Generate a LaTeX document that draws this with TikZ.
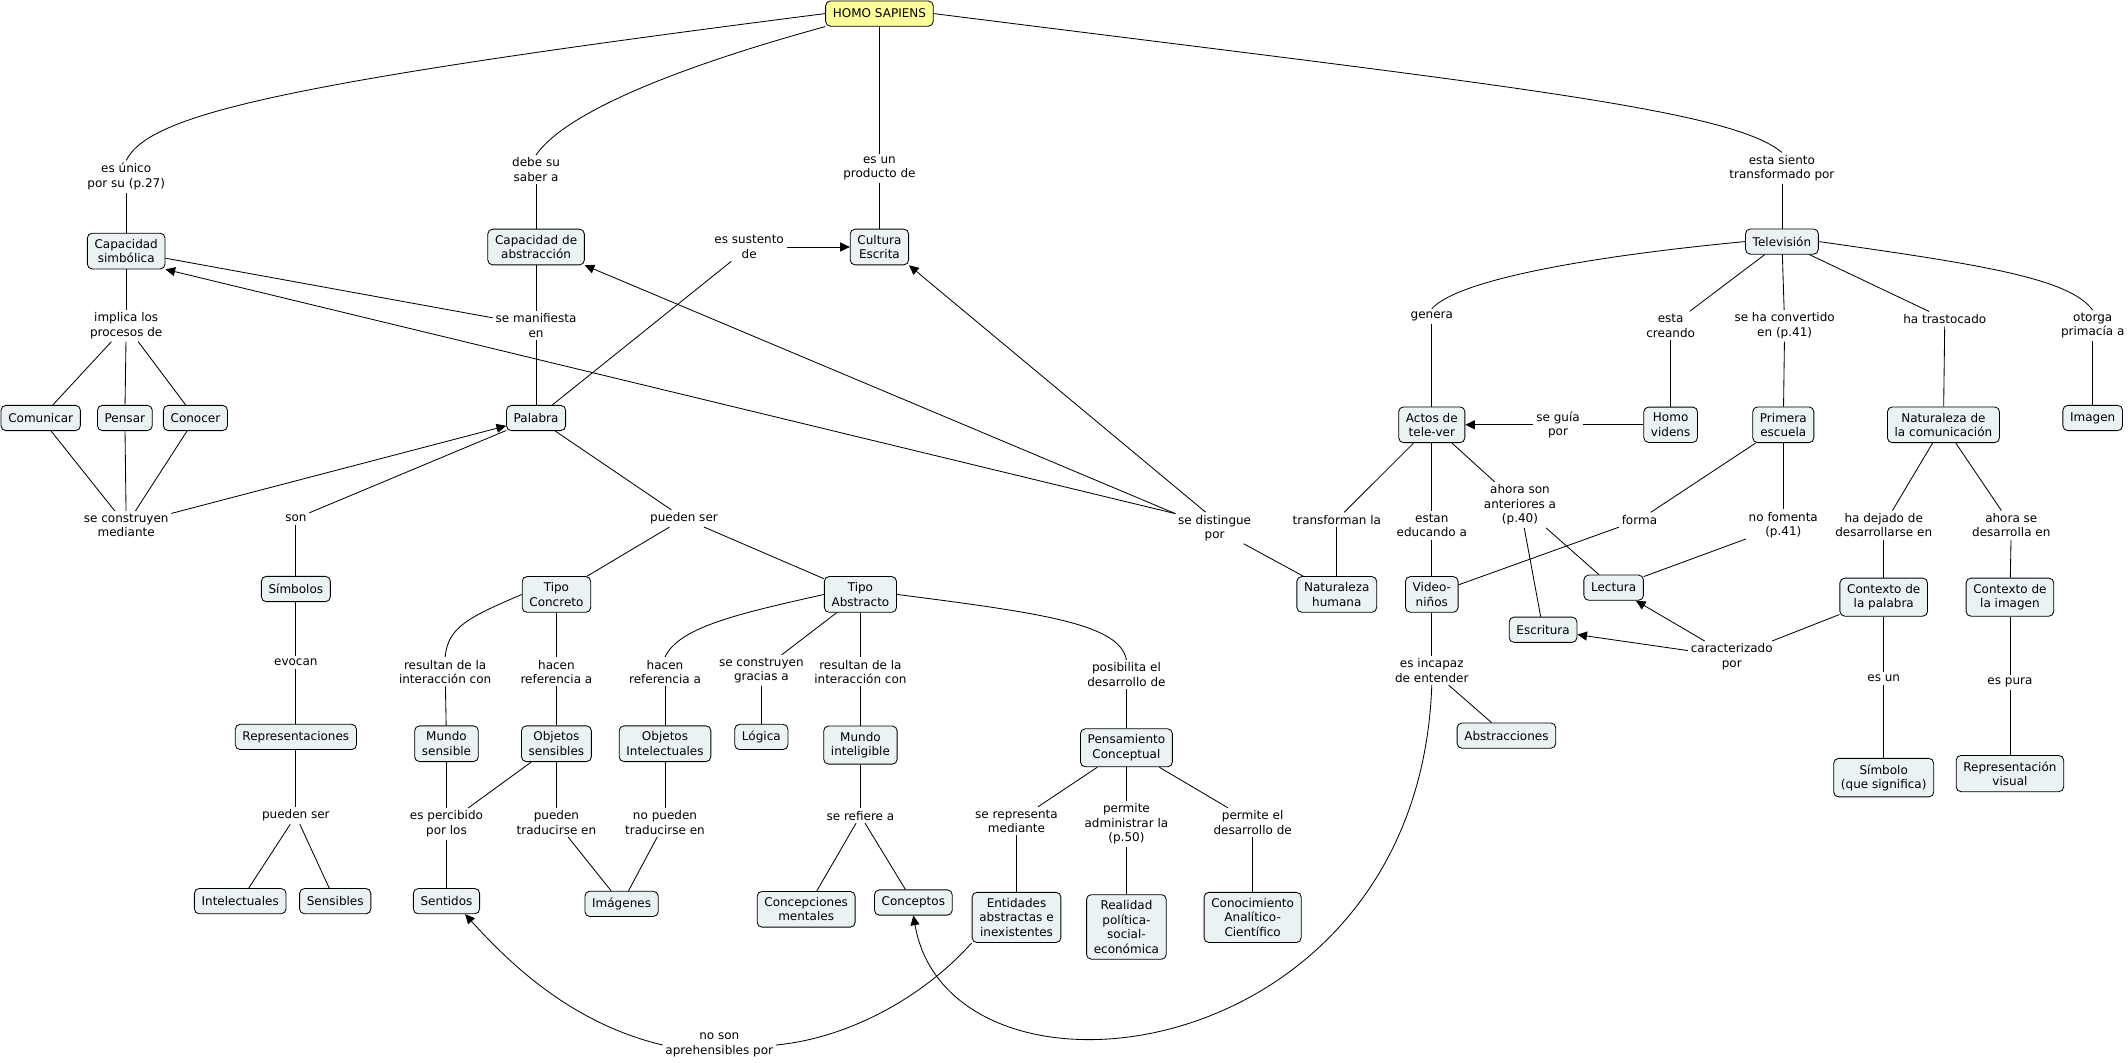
\documentclass[tikz,border=0pt]{standalone}
\usepackage{fontspec}
\setmainfont{DejaVu Sans}
\usepackage{tikz}
\usetikzlibrary{arrows.meta}
\definecolor{conceptfill}{RGB}{235,242,244}
\definecolor{rootfill}{RGB}{255,255,153}

\begin{document}
\begin{tikzpicture}[x=1.13pt, y=-1.13pt, line width=0.7pt,
	concept/.style={draw, rounded corners=4pt, fill=conceptfill, align=center, font=\fontsize{10}{12}\selectfont, inner xsep=6pt, inner ysep=5pt, minimum height=21pt},
	root/.style={concept, fill=rootfill},
	link/.style={align=center, font=\fontsize{10}{12}\selectfont, inner sep=2pt},
	>={Triangle[length=8pt,width=7.5pt]}]
	\useasboundingbox (0,0) rectangle (1568,783);
	
	\node[root] (hs) at (648,10) {HOMO SAPIENS};
	\node[concept] (capsim) at (93,185) {Capacidad\\simbólica};
	\node[concept] (capabs) at (395,182) {Capacidad de\\abstracción};
	\node[concept] (cultura) at (648,182) {Cultura\\Escrita};
	\node[concept] (tele) at (1313,178) {Televisión};
	\node[concept] (comunicar) at (30,308) {Comunicar};
	\node[concept] (pensar) at (92,308) {Pensar};
	\node[concept] (conocer) at (144,308) {Conocer};
	\node[concept] (palabra) at (395,308) {Palabra};
	\node[concept] (actos) at (1055,313) {Actos de\\tele-ver};
	\node[concept] (homovidens) at (1231,313) {Homo\\videns};
	\node[concept] (primera) at (1314,313) {Primera\\escuela};
	\node[concept] (natcom) at (1432,313) {Naturaleza de\\la comunicación};
	\node[concept] (imagen) at (1542,308) {Imagen};
	\node[concept] (simbolos) at (218,434) {Símbolos};
	\node[concept] (concreto) at (410,438) {Tipo\\Concreto};
	\node[concept] (abstracto) at (634,438) {Tipo\\Abstracto};
	\node[concept] (nathum) at (985,438) {Naturaleza\\humana};
	\node[concept] (videoninos) at (1055,438) {Video-\\niños};
	\node[concept] (lectura) at (1189,433) {Lectura};
	\node[concept] (escritura) at (1137,464) {Escritura};
	\node[concept] (ctxpal) at (1388,440) {Contexto de\\la palabra};
	\node[concept] (ctximg) at (1481,440) {Contexto de\\la imagen};
	\node[concept] (repres) at (218,543) {Representaciones};
	\node[concept] (mundosens) at (329,548) {Mundo\\sensible};
	\node[concept] (objsens) at (410,548) {Objetos\\sensibles};
	\node[concept] (objint) at (490,548) {Objetos\\Intelectuales};
	\node[concept] (logica) at (561,543) {Lógica};
	\node[concept] (mundoint) at (634,549) {Mundo\\inteligible};
	\node[concept] (pensamiento) at (830,551) {Pensamiento\\Conceptual};
	\node[concept] (abstracciones) at (1110,542) {Abstracciones};
	\node[concept] (simbolo) at (1388,573) {Símbolo\\(que significa)};
	\node[concept] (repvisual) at (1481,570) {Representación\\visual};
	\node[concept] (intelectuales) at (177,664) {Intelectuales};
	\node[concept] (sensibles) at (247,664) {Sensibles};
	\node[concept] (sentidos) at (329,664) {Sentidos};
	\node[concept] (imagenes) at (458,666) {Imágenes};
	\node[concept] (concepciones) at (594,670) {Concepciones\\mentales};
	\node[concept] (conceptos) at (673,665) {Conceptos};
	\node[concept] (entidades) at (749,676) {Entidades\\abstractas e\\inexistentes};
	\node[concept] (realidad) at (830,683) {Realidad\\política-\\social-\\económica};
	\node[concept] (conocimiento) at (923,676) {Conocimiento\\Analítico-\\Científico};
	
	\node[link] (lunico) at (93,130) {es único\\por su (p.27)};
	\node[link] (ldebe) at (395,125) {debe su\\saber a};
	\node[link] (lproducto) at (648,124) {es un\\producto de};
	\node[link] (lsiento) at (1313,124) {esta siento\\transformado por};
	\node[link] (lsustento) at (552,182) {es sustento\\de};
	\node[link] (lmanifiesta) at (395,240) {se manifiesta\\en};
	\node[link] (limplica) at (93,240) {implica los\\procesos de};
	\node[link] (lgenera) at (1055,233) {genera};
	\node[link] (lcreando) at (1231,240) {esta\\creando};
	\node[link] (lconvertido) at (1315,240) {se ha convertido\\en (p.41)};
	\node[link] (ltrastocado) at (1433,235) {ha trastocado};
	\node[link] (lotorga) at (1542,240) {otorga\\primacía a};
	\node[link] (lguia) at (1148,313) {se guía\\por};
	\node[link] (lconstruyen) at (93,387) {se construyen\\mediante};
	\node[link] (lson) at (218,382) {son};
	\node[link] (lpueden) at (504,382) {pueden ser};
	\node[link] (ldistingue) at (895,389) {se distingue\\por};
	\node[link] (ltransforman) at (985,383) {transforman la};
	\node[link] (leducando) at (1055,387) {estan\\educando a};
	\node[link] (lanteriores) at (1120,372) {ahora son\\anteriores a\\(p.40)};
	\node[link] (lforma) at (1208,383) {forma};
	\node[link] (lfomenta) at (1314,387) {no fomenta\\(p.41)};
	\node[link] (ldejado) at (1388,387) {ha dejado de\\desarrollarse en};
	\node[link] (ldesarrolla) at (1482,387) {ahora se\\desarrolla en};
	\node[link] (levocan) at (218,488) {evocan};
	\node[link] (lresultanA) at (328,495) {resultan de la\\interacción con};
	\node[link] (lhacenA) at (410,495) {hacen\\referencia a};
	\node[link] (lhacenB) at (490,495) {hacen\\referencia a};
	\node[link] (lgracias) at (561,494) {se construyen\\gracias a};
	\node[link] (lresultanB) at (634,495) {resultan de la\\interacción con};
	\node[link] (lposibilita) at (830,497) {posibilita el\\desarrollo de};
	\node[link] (lincapaz) at (1055,494) {es incapaz\\de entender};
	\node[link] (lcaracterizado) at (1276,484) {caracterizado\\por};
	\node[link] (lesun) at (1388,500) {es un};
	\node[link] (lpura) at (1481,503) {es pura};
	\node[link] (lpuedenB) at (218,601) {pueden ser};
	\node[link] (lpercibido) at (329,607) {es percibido\\por los};
	\node[link] (ltraducir) at (410,606) {pueden\\traducirse en};
	\node[link] (lnotraducir) at (490,606) {no pueden\\traducirse en};
	\node[link] (lrefiere) at (634,601) {se refiere a};
	\node[link] (lrepresenta) at (749,605) {se representa\\mediante};
	\node[link] (ladministrar) at (830,607) {permite\\administrar la\\(p.50)};
	\node[link] (lpermite) at (923,606) {permite el\\desarrollo de};
	\node[link] (lnoson) at (530,770) {no son\\aprehensibles por};
	
	\draw (hs.west) .. controls (200,62) and (110,85) .. (lunico.north);
	\draw (lunico) -- (capsim);
	\draw (hs.south west) .. controls (490,52) and (415,85) .. (ldebe.north);
	\draw (ldebe) -- (capabs);
	\draw (hs) -- (lproducto);
	\draw (lproducto) -- (cultura);
	\draw (hs.east) .. controls (1100,62) and (1275,80) .. (lsiento.north);
	\draw (lsiento) -- (tele);
	
	\draw (capsim) -- (limplica);
	\draw (limplica) -- (comunicar);
	\draw (limplica) -- (pensar);
	\draw (limplica) -- (conocer);
	\draw (comunicar) -- (lconstruyen);
	\draw (pensar) -- (lconstruyen);
	\draw (conocer) -- (lconstruyen);
	\draw[->] (lconstruyen) -- (palabra);
	\draw (capsim) -- (lmanifiesta);
	\draw (capabs) -- (lmanifiesta);
	\draw (lmanifiesta) -- (palabra);
	\draw (palabra) -- (lsustento);
	\draw[->] (lsustento) -- (cultura);
	
	\draw (palabra) -- (lson);
	\draw (lson) -- (simbolos);
	\draw (simbolos) -- (levocan);
	\draw (levocan) -- (repres);
	\draw (repres) -- (lpuedenB);
	\draw (lpuedenB) -- (intelectuales);
	\draw (lpuedenB) -- (sensibles);
	\draw (palabra) -- (lpueden);
	\draw (lpueden) -- (concreto);
	\draw (lpueden) -- (abstracto);
	
	\draw (concreto.west) .. controls (345,455) and (330,462) .. (lresultanA.north);
	\draw (lresultanA) -- (mundosens);
	\draw (concreto) -- (lhacenA);
	\draw (lhacenA) -- (objsens);
	\draw (mundosens) -- (lpercibido);
	\draw (objsens) -- (lpercibido);
	\draw (lpercibido) -- (sentidos);
	\draw (objsens) -- (ltraducir);
	\draw (ltraducir) -- (imagenes);
	\draw (objint) -- (lnotraducir);
	\draw (lnotraducir) -- (imagenes);
	
	\draw (abstracto.west) .. controls (545,452) and (500,462) .. (lhacenB.north);
	\draw (lhacenB) -- (objint);
	\draw (abstracto) -- (lgracias);
	\draw (lgracias) -- (logica);
	\draw (abstracto) -- (lresultanB);
	\draw (lresultanB) -- (mundoint);
	\draw (mundoint) -- (lrefiere);
	\draw (lrefiere) -- (concepciones);
	\draw (lrefiere) -- (conceptos);
	\draw (abstracto.east) .. controls (770,452) and (825,460) .. (lposibilita.north);
	\draw (lposibilita) -- (pensamiento);
	\draw (pensamiento) -- (lrepresenta);
	\draw (lrepresenta) -- (entidades);
	\draw (pensamiento) -- (ladministrar);
	\draw (ladministrar) -- (realidad);
	\draw (pensamiento) -- (lpermite);
	\draw (lpermite) -- (conocimiento);
	\draw (entidades.south west) .. controls (680,735) and (625,765) .. (lnoson.east);
	\draw[->] (lnoson.west) .. controls (425,755) and (380,715) .. (sentidos.-35);
	
	\draw (nathum) -- (ldistingue);
	\draw[->] (ldistingue.160) -- (capsim.south east);
	\draw[->] (ldistingue.160) -- (capabs.south east);
	\draw[->] (ldistingue.120) -- (cultura.south east);
	
	\draw (tele.west) .. controls (1180,188) and (1075,205) .. (lgenera.north);
	\draw (lgenera) -- (actos);
	\draw (tele) -- (lcreando);
	\draw (lcreando) -- (homovidens);
	\draw (tele) -- (lconvertido);
	\draw (lconvertido) -- (primera);
	\draw (tele) -- (ltrastocado);
	\draw (ltrastocado) -- (natcom);
	\draw (tele.east) .. controls (1460,195) and (1525,205) .. (lotorga.north);
	\draw (lotorga) -- (imagen);
	\draw (homovidens) -- (lguia);
	\draw[->] (lguia) -- (actos);
	
	\draw (actos) -- (ltransforman);
	\draw (ltransforman) -- (nathum);
	\draw (actos) -- (leducando);
	\draw (leducando) -- (videoninos);
	\draw (actos) -- (lanteriores);
	\draw (lanteriores) -- (lectura);
	\draw (lanteriores) -- (escritura);
	\draw (primera) -- (lforma);
	\draw (lforma) -- (videoninos);
	\draw (primera) -- (lfomenta);
	\draw (lfomenta) -- (lectura);
	\draw (natcom) -- (ldejado);
	\draw (ldejado) -- (ctxpal);
	\draw (natcom) -- (ldesarrolla);
	\draw (ldesarrolla) -- (ctximg);
	\draw (ctxpal) -- (lcaracterizado);
	\draw[->] (lcaracterizado) -- (lectura);
	\draw[->] (lcaracterizado) -- (escritura);
	\draw (ctxpal) -- (lesun);
	\draw (lesun) -- (simbolo);
	\draw (ctximg) -- (lpura);
	\draw (lpura) -- (repvisual);
	\draw (videoninos) -- (lincapaz);
	\draw (lincapaz) -- (abstracciones);
	\draw[->] (lincapaz.south) .. controls (1045,790) and (700,830) .. (conceptos.south);
\end{tikzpicture}
\end{document}
